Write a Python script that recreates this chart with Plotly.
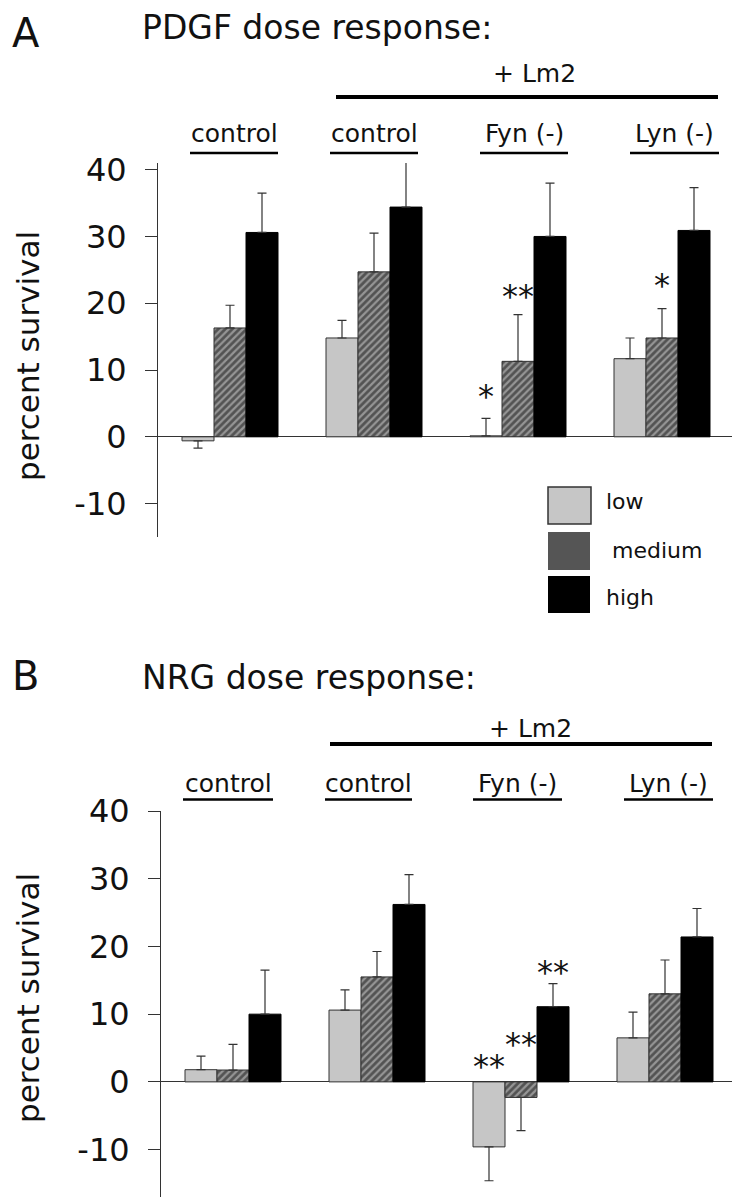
import plotly.graph_objects as go

# ---------------- data ----------------
categories = ["control", "+Lm2 control", "+Lm2 Fyn (-)", "+Lm2 Lyn (-)"]
category_labels = ["control", "control", "Fyn (-)", "Lyn (-)"]
doses = ["low", "medium", "high"]

# Panel A: PDGF dose response
pdgf_low = [-0.6, 14.8, 0.15, 11.7]
pdgf_medium = [16.3, 24.7, 11.3, 14.8]
pdgf_high = [30.6, 34.4, 30.0, 30.9]
pdgf_low_err = [1.1, 2.65, 2.6, 3.1]
pdgf_medium_err = [3.4, 5.8, 7.0, 4.4]
pdgf_high_err = [5.9, 6.9, 8.0, 6.4]

# Panel B: NRG dose response
nrg_low = [1.8, 10.6, -9.6, 6.5]
nrg_medium = [1.75, 15.5, -2.3, 13.0]
nrg_high = [10.0, 26.2, 11.1, 21.4]
nrg_low_err = [2.0, 3.0, 5.0, 3.8]
nrg_medium_err = [3.8, 3.75, 4.9, 5.0]
nrg_high_err = [6.5, 4.4, 3.4, 4.2]

# significance marks: (category index, dose index, text, y value)
pdgf_sig = [(2, 0, "*", 6.6), (2, 1, "**", 21.6), (3, 1, "*", 23.2)]
nrg_sig = [(2, 0, "**", 2.75), (2, 1, "**", 6.05), (2, 2, "**", 16.7)]

y_ticks = [-10, 0, 10, 20, 30, 40]
y_tick_text = ["-10", "0", "10", "20", "30", "40"]

# ---------------- style ----------------
W, H = 740, 1200
OX, OY = 8, 8          # page body margin offset
FONT = "DejaVu Sans"
BARGAP = 1 / 3


def px(x):
    return (x - OX) / W


def py(y):
    return 1 - (y - OY) / H


styles = {
    "low": dict(color="#c6c6c6", line=dict(color="#333333", width=1)),
    "medium": dict(color="#909090", line=dict(color="#333333", width=1),
                   pattern=dict(shape="/", size=5, solidity=0.55,
                                fgcolor="#111111", bgcolor="#959595")),
    "high": dict(color="#000000", line=dict(color="#000000", width=1)),
}

fig = go.Figure()


def add_panel(vals, errs, xa, ya):
    for dose, v, e in zip(doses, vals, errs):
        up = [ee if vv >= 0 else 0 for vv, ee in zip(v, e)]
        down = [ee if vv < 0 else 0 for vv, ee in zip(v, e)]
        fig.add_trace(go.Bar(
            x=categories, y=v, name=dose, xaxis=xa, yaxis=ya,
            marker=styles[dose], showlegend=False,
            error_y=dict(type="data", symmetric=False, array=up, arrayminus=down,
                         color="#333333", thickness=1.2, width=4.5),
        ))


add_panel([pdgf_low, pdgf_medium, pdgf_high],
          [pdgf_low_err, pdgf_medium_err, pdgf_high_err], "x", "y")
add_panel([nrg_low, nrg_medium, nrg_high],
          [nrg_low_err, nrg_medium_err, nrg_high_err], "x2", "y2")

yaxis_common = dict(
    tickvals=y_ticks, ticktext=y_tick_text, showline=True, linecolor="#333333", linewidth=1,
    ticks="outside", ticklen=12, tickwidth=1, tickcolor="#333333",
    tickfont=dict(family=FONT, size=32, color="#111111"),
    zeroline=True, zerolinecolor="#333333", zerolinewidth=1,
    showgrid=False, ticklabelstandoff=12, fixedrange=True,
)
xaxis_common = dict(
    type="category", range=[-0.5, 3.5], showticklabels=False, showline=False,
    ticks="", showgrid=False, zeroline=False, fixedrange=True,
)

fig.update_layout(
    width=W, height=H, margin=dict(l=0, r=0, t=0, b=0, pad=0, autoexpand=False),
    paper_bgcolor="white", plot_bgcolor="white",
    barmode="group", bargap=BARGAP, bargroupgap=0,
    font=dict(family=FONT, color="#111111"),
    showlegend=False,
    xaxis=dict(domain=[px(158), px(734)], anchor="y", **xaxis_common),
    yaxis=dict(domain=[py(537), py(163)], range=[-15, 41], anchor="x", **yaxis_common),
    xaxis2=dict(domain=[px(161), px(737)], anchor="y2", **xaxis_common),
    yaxis2=dict(domain=[py(1197), py(811)], range=[-17, 40], anchor="x2", **yaxis_common),
)

shapes = []
annotations = []


def hline(x0, x1, y, w):
    shapes.append(dict(type="line", xref="paper", yref="paper",
                       x0=px(x0), x1=px(x1), y0=py(y), y1=py(y),
                       line=dict(color="#000000", width=w)))


def text(t, x, y, size, xanchor="center", angle=0, yanchor="middle"):
    annotations.append(dict(text=t, xref="paper", yref="paper", x=px(x), y=py(y),
                            xanchor=xanchor, yanchor=yanchor, showarrow=False,
                            textangle=angle,
                            font=dict(family=FONT, size=size, color="#111111")))


# ----- panel headers -----
panels = [
    dict(letter="A", title="PDGF dose response:", letter_y=8, letter_anchor="top", title_y=27,
         lm2_y=73, lm2_x=534, bar=(336, 718, 97), label_y=134, ul_y=153,
         ul=[(190, 278), (330, 418), (480, 568), (630, 719)], ylab_y=356),
    dict(letter="B", title="NRG dose response:", letter_y=676, letter_anchor="middle", title_y=677,
         lm2_y=728, lm2_x=530, bar=(330, 712, 744), label_y=783, ul_y=799.5,
         ul=[(183, 273), (325, 412), (473, 562), (624, 713)], ylab_y=998),
]
for p in panels:
    text(p["letter"], 10, p["letter_y"], 40, xanchor="left", yanchor=p["letter_anchor"])
    text(p["title"], 140, p["title_y"], 33, xanchor="left")
    text("+ Lm2", p["lm2_x"], p["lm2_y"], 25)
    hline(p["bar"][0], p["bar"][1], p["bar"][2], 4)
    for lab, (a, b) in zip(category_labels, p["ul"]):
        text(lab, (a + b) / 2, p["label_y"], 25)
        hline(a, b, p["ul_y"], 2.5)
    text("percent survival", 28, p["ylab_y"], 31, angle=-90)

# ----- significance asterisks -----
bar_w = (1 - BARGAP) / 3
for sig, xa, ya in [(pdgf_sig, "x", "y"), (nrg_sig, "x2", "y2")]:
    for ci, di, t, yv in sig:
        annotations.append(dict(text=t, xref=xa, yref=ya, x=ci + (di - 1) * bar_w, y=yv,
                                xanchor="center", yanchor="middle", showarrow=False,
                                yshift=-3, font=dict(family=FONT, size=32, color="#111111")))

# ----- legend (drawn) -----
legend_boxes = [
    ("low", (548, 487, 591, 524), "#c6c6c6", dict(color="#333333", width=1.5), 604, 502),
    ("medium", (548, 532, 590, 570), "#555555", dict(width=0), 610, 550),
    ("high", (548, 576, 590, 613), "#000000", dict(width=0), 604, 597),
]
for name, (x0, y0, x1, y1), fc, ln, tx, ty in legend_boxes:
    shapes.append(dict(type="rect", xref="paper", yref="paper",
                       x0=px(x0), x1=px(x1), y0=py(y1), y1=py(y0),
                       fillcolor=fc, line=ln))
    text(name, tx, ty, 22, xanchor="left")

fig.update_layout(shapes=shapes, annotations=annotations)
fig.write_html("out.html")
